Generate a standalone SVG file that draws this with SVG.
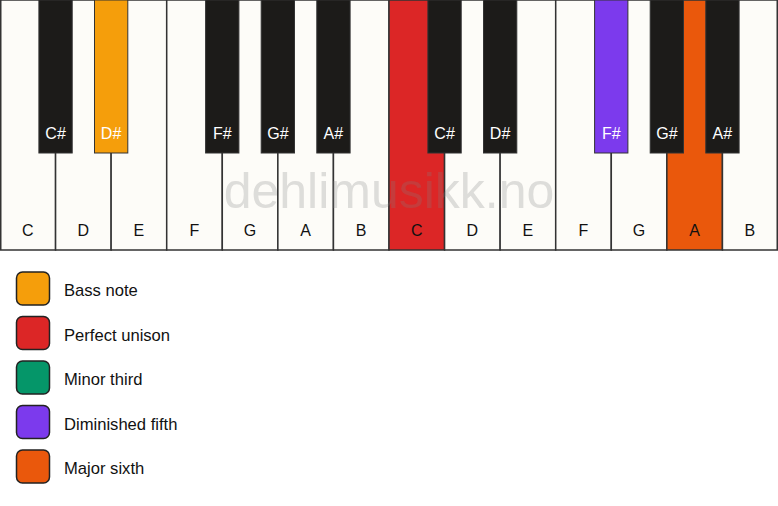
<svg xmlns="http://www.w3.org/2000/svg" width="778" height="506" viewBox="0 0 778 506">
<style>
.w{fill:#fdfcf8;stroke:#333;stroke-width:1.5}
.b{fill:#1c1b19;stroke:#333;stroke-width:1}
.wl{font-family:"Liberation Sans",Arial,sans-serif;font-size:16px;fill:#111;text-anchor:middle}
.bl{font-family:"Liberation Sans",Arial,sans-serif;font-size:16px;fill:#fff;text-anchor:middle}
.lg{stroke:#222;stroke-width:1.5}
.lt{font-family:"Liberation Sans",Arial,sans-serif;font-size:16.6px;fill:#111}
</style>
<rect width="778" height="506" fill="#ffffff"/>
<g id="white-keys">
<g id="w-C1"><rect class="w" x="0.75" y="0" width="54.82" height="250"/><text class="wl" x="27.8" y="236">C</text></g>
<g id="w-D1"><rect class="w" x="55.57" y="0" width="55.57" height="250"/><text class="wl" x="83.4" y="236">D</text></g>
<g id="w-E1"><rect class="w" x="111.14" y="0" width="55.57" height="250"/><text class="wl" x="138.9" y="236">E</text></g>
<g id="w-F1"><rect class="w" x="166.71" y="0" width="55.57" height="250"/><text class="wl" x="194.5" y="236">F</text></g>
<g id="w-G1"><rect class="w" x="222.29" y="0" width="55.57" height="250"/><text class="wl" x="250.1" y="236">G</text></g>
<g id="w-A1"><rect class="w" x="277.86" y="0" width="55.57" height="250"/><text class="wl" x="305.6" y="236">A</text></g>
<g id="w-B1"><rect class="w" x="333.43" y="0" width="55.57" height="250"/><text class="wl" x="361.2" y="236">B</text></g>
<g id="w-C2"><rect class="w" x="389" y="0" width="55.57" height="250" style="fill:#dc2626"/><text class="wl" x="416.8" y="236">C</text></g>
<g id="w-D2"><rect class="w" x="444.57" y="0" width="55.57" height="250"/><text class="wl" x="472.4" y="236">D</text></g>
<g id="w-E2"><rect class="w" x="500.14" y="0" width="55.57" height="250"/><text class="wl" x="527.9" y="236">E</text></g>
<g id="w-F2"><rect class="w" x="555.71" y="0" width="55.57" height="250"/><text class="wl" x="583.5" y="236">F</text></g>
<g id="w-G2"><rect class="w" x="611.29" y="0" width="55.57" height="250"/><text class="wl" x="639.1" y="236">G</text></g>
<g id="w-A2"><rect class="w" x="666.86" y="0" width="55.57" height="250" style="fill:#ea580c"/><text class="wl" x="694.6" y="236">A</text></g>
<g id="w-B2"><rect class="w" x="722.43" y="0" width="54.82" height="250"/><text class="wl" x="749.8" y="236">B</text></g>
</g>
<text x="389" y="208" font-family="'Liberation Sans',Arial,sans-serif" font-size="50" fill="#808080" fill-opacity="0.25" text-anchor="middle">dehlimusikk.no</text>
<g id="black-keys">
<g id="b-Cs1"><rect class="b" x="38.9" y="0" width="33.3" height="153"/><text class="bl" x="55.6" y="139">C#</text></g>
<g id="b-Ds1"><rect class="b" x="94.5" y="0" width="33.3" height="153" style="fill:#f59e0b"/><text class="bl" x="111.1" y="139">D#</text></g>
<g id="b-Fs1"><rect class="b" x="205.6" y="0" width="33.3" height="153"/><text class="bl" x="222.3" y="139">F#</text></g>
<g id="b-Gs1"><rect class="b" x="261.2" y="0" width="33.3" height="153"/><text class="bl" x="277.9" y="139">G#</text></g>
<g id="b-As1"><rect class="b" x="316.8" y="0" width="33.3" height="153"/><text class="bl" x="333.4" y="139">A#</text></g>
<g id="b-Cs2"><rect class="b" x="427.9" y="0" width="33.3" height="153"/><text class="bl" x="444.6" y="139">C#</text></g>
<g id="b-Ds2"><rect class="b" x="483.5" y="0" width="33.3" height="153"/><text class="bl" x="500.1" y="139">D#</text></g>
<g id="b-Fs2"><rect class="b" x="594.6" y="0" width="33.3" height="153" style="fill:#7c3aed"/><text class="bl" x="611.3" y="139">F#</text></g>
<g id="b-Gs2"><rect class="b" x="650.2" y="0" width="33.3" height="153"/><text class="bl" x="666.9" y="139">G#</text></g>
<g id="b-As2"><rect class="b" x="705.8" y="0" width="33.3" height="153"/><text class="bl" x="722.4" y="139">A#</text></g>
</g>
<g id="connectors"></g>
<g id="legend">
<g id="lg-bass"><rect class="lg" x="16.5" y="272" width="33" height="33" rx="6" fill="#f59e0b"/><text class="lt" x="64" y="296">Bass note</text></g>
<g id="lg-unison"><rect class="lg" x="16.5" y="316.5" width="33" height="33" rx="6" fill="#dc2626"/><text class="lt" x="64" y="340.5">Perfect unison</text></g>
<g id="lg-minor3"><rect class="lg" x="16.5" y="361" width="33" height="33" rx="6" fill="#059669"/><text class="lt" x="64" y="385">Minor third</text></g>
<g id="lg-dim5"><rect class="lg" x="16.5" y="405.5" width="33" height="33" rx="6" fill="#7c3aed"/><text class="lt" x="64" y="429.5">Diminished fifth</text></g>
<g id="lg-maj6"><rect class="lg" x="16.5" y="450" width="33" height="33" rx="6" fill="#ea580c"/><text class="lt" x="64" y="474">Major sixth</text></g>
</g>
</svg>
